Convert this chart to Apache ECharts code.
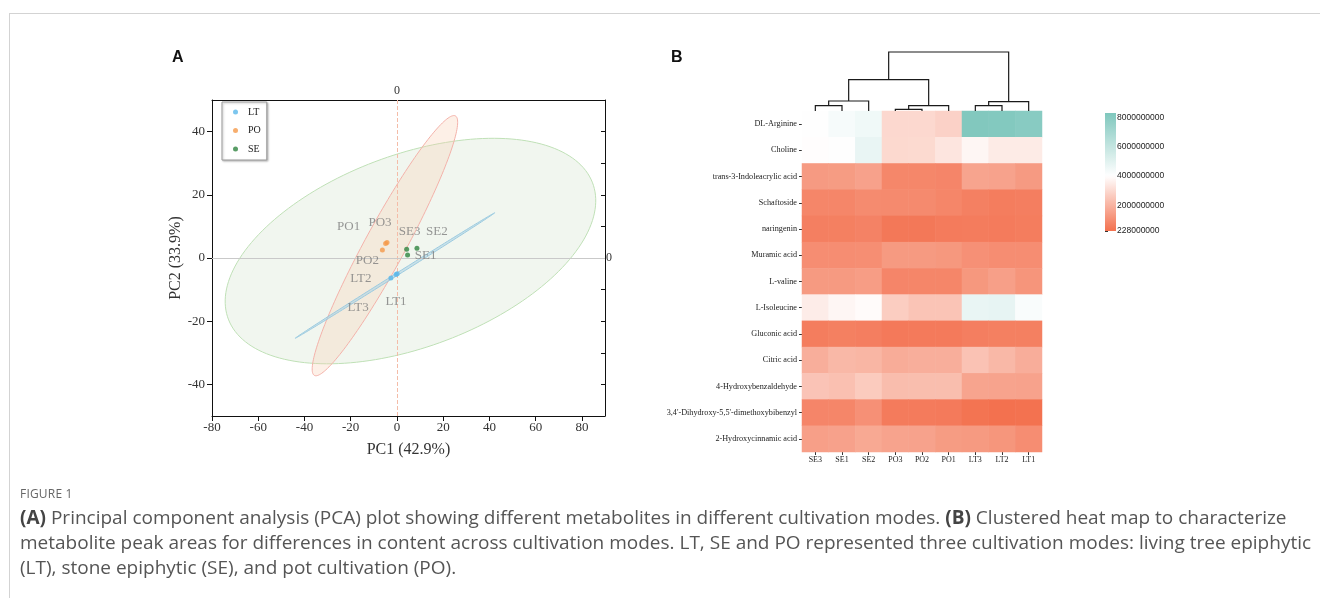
<!DOCTYPE html>
<html>
<head>
<meta charset="utf-8">
<script src="https://cdn.jsdelivr.net/npm/echarts@6.0.0/dist/echarts.min.js"></script>
<style>
  html, body { margin: 0; padding: 0; background: #fff; }
  #page { position: relative; width: 1320px; height: 598px; overflow: hidden; }
  #chart { position: absolute; left: 0; top: 0; width: 1320px; height: 598px; }
  .rule { position: absolute; background: #d3d3d3; }
  #figLabel { position: absolute; left: 20px; top: 485px; font-family: "Open Sans", sans-serif; font-size: 12px; color: #666; letter-spacing: 0.2px; }
  #caption { position: absolute; left: 20px; top: 505px; font-family: "Open Sans", sans-serif; font-size: 19px; line-height: 25px; color: #555; white-space: nowrap; }
  #caption b { color: #444; }
</style>
</head>
<body>
<div id="page">
  <div class="rule" style="left:9px;top:13px;width:1311px;height:1px;"></div>
  <div class="rule" style="left:9px;top:13px;width:1px;height:585px;"></div>
  <div id="chart"></div>
  <div id="figLabel">FIGURE 1</div>
  <div id="caption"><b>(A)</b> Principal component analysis (PCA) plot showing different metabolites in different cultivation modes. <b>(B)</b> Clustered heat map to characterize<br>metabolite peak areas for differences in content across cultivation modes. LT, SE and PO represented three cultivation modes: living tree epiphytic<br>(LT), stone epiphytic (SE), and pot cultivation (PO).</div>
</div>
<script>
// ---------- PCA scores ----------
const pc1Title = 'PC1 (42.9%)';
const pc2Title = 'PC2 (33.9%)';
const xTickValues = [-80, -60, -40, -20, 0, 20, 40, 60, 80];
const yTickValues = [-40, -20, 0, 20, 40];
const yMinorTickValues = [-40, -30, -20, -10, 0, 10, 20, 30, 40];

const groupNames = ['LT', 'PO', 'SE'];

const ltNames = ['LT1', 'LT2', 'LT3'];
const ltPC1 = [-0.4, -2.6, 0.1];
const ltPC2 = [-5.2, -6.3, -5.0];

const poNames = ['PO1', 'PO2', 'PO3'];
const poPC1 = [-4.9, -6.3, -4.3];
const poPC2 = [4.6, 2.5, 4.9];

const seNames = ['SE1', 'SE2', 'SE3'];
const sePC1 = [4.6, 8.65, 4.2];
const sePC2 = [0.96, 3.1, 2.76];

// confidence ellipses: centre, semi-axes and rotation (degrees, in PC units)
const ellipseGroups = ['SE', 'PO', 'LT'];
const ellipseCX = [5.85, -5.2, -0.85];
const ellipseCY = [2.2, 3.9, -5.55];
const ellipseA = [82.0, 51.2, 47.5];
const ellipseB = [31.2, 8.0, 0.4];
const ellipseAngle = [13.2, 53.0, 24.7];

// ---------- heat map ----------
const sampleCols = ['SE3', 'SE1', 'SE2', 'PO3', 'PO2', 'PO1', 'LT3', 'LT2', 'LT1'];
const metaboliteRows = [
  'DL-Arginine', 'Choline', 'trans-3-Indoleacrylic acid', 'Schaftoside', 'naringenin',
  'Muramic acid', 'L-valine', 'L-Isoleucine', 'Gluconic acid', 'Citric acid',
  '4-Hydroxybenzaldehyde', "3,4'-Dihydroxy-5,5'-dimethoxybibenzyl", '2-Hydroxycinnamic acid'
];
// peak areas, one row per metabolite, columns in sampleCols order
const peakAreas = [
  [4.05e9, 4.3e9, 4.5e9, 2.96e9, 2.96e9, 2.8e9, 8.22e9, 8.2e9, 8.0e9],
  [3.95e9, 4.05e9, 4.75e9, 2.98e9, 3.0e9, 3.31e9, 3.76e9, 3.47e9, 3.47e9],
  [1.32e9, 1.35e9, 1.5e9, 0.81e9, 0.81e9, 0.78e9, 1.58e9, 1.53e9, 1.32e9],
  [0.79e9, 0.8e9, 0.92e9, 0.9e9, 0.9e9, 0.8e9, 0.63e9, 0.55e9, 0.58e9],
  [0.6e9, 0.62e9, 0.7e9, 0.42e9, 0.42e9, 0.5e9, 0.53e9, 0.5e9, 0.55e9],
  [0.97e9, 0.97e9, 1.0e9, 1.3e9, 1.3e9, 1.25e9, 1.05e9, 0.98e9, 0.98e9],
  [1.3e9, 1.3e9, 1.38e9, 0.78e9, 0.8e9, 0.8e9, 1.25e9, 1.45e9, 1.18e9],
  [3.5e9, 3.75e9, 3.9e9, 2.67e9, 2.43e9, 2.43e9, 4.75e9, 4.8e9, 4.2e9],
  [0.55e9, 0.62e9, 0.58e9, 0.45e9, 0.47e9, 0.47e9, 0.58e9, 0.62e9, 0.62e9],
  [1.85e9, 2.12e9, 2.05e9, 1.78e9, 1.85e9, 1.85e9, 2.38e9, 2.12e9, 1.83e9],
  [2.42e9, 2.32e9, 2.62e9, 2.25e9, 2.27e9, 2.27e9, 1.58e9, 1.56e9, 1.53e9],
  [0.78e9, 0.8e9, 1.05e9, 0.5e9, 0.5e9, 0.48e9, 0.3e9, 0.23e9, 0.25e9],
  [1.45e9, 1.5e9, 1.7e9, 1.55e9, 1.53e9, 1.35e9, 1.3e9, 1.2e9, 0.98e9]
];
const colorbarTicks = [228000000, 2000000000, 4000000000, 6000000000, 8000000000];
const colorMin = 228000000;
const colorMid = 4000000000;
const colorMax = 8320000000;

// column dendrogram: [child, child, merge height]; leaves are 0..8, merges are numbered from 9
const dendroMerges = [
  [0, 1, 5.4], [9, 2, 10.0], [3, 4, 1.7], [11, 5, 5.4],
  [6, 7, 5.4], [13, 8, 9.4], [10, 12, 31.4], [15, 14, 59]
];
const dendroTop = 59;

// ---------- styling ----------
const SERIF = '"Liberation Serif", "Times New Roman", serif';
const SANS = '"Liberation Sans", Arial, sans-serif';
const groupColors = { LT: '#5bb8ea', PO: '#f59a4a', SE: '#2f8540' };
const ellipseStyle = {
  SE: { fill: 'rgba(196,218,190,0.24)', stroke: '#bfe0b6' },
  PO: { fill: 'rgba(248,206,176,0.30)', stroke: '#f3b1a9' },
  LT: { fill: 'rgba(170,208,226,0.55)', stroke: '#9ccbe0' }
};
const labelOffsets = {
  LT1: [0, 27], LT2: [-30, 1], LT3: [-39, 34],
  PO1: [-37, -17], PO2: [-15, 10], PO3: [-7, -20],
  SE1: [18, 1], SE2: [20, -17], SE3: [3, -18]
};

const lowRGB = [243, 113, 79];
const midRGB = [255, 255, 255];
const highRGB = [127, 199, 189];
function mix(a, b, t) {
  return 'rgb(' + a.map((c, i) => Math.round(c + (b[i] - c) * t)).join(',') + ')';
}
function colorFor(v) {
  if (v <= colorMid) return mix(lowRGB, midRGB, Math.max(0, (v - colorMin) / (colorMid - colorMin)));
  return mix(midRGB, highRGB, Math.min(1, (v - colorMid) / (colorMax - colorMid)));
}
const rampColors = [];
for (let k = 0; k <= 60; k++) rampColors.push(colorFor(colorMin + (colorMax - colorMin) * k / 60));

function scatterData(names, xs, ys) {
  return names.map((n, i) => ({ name: n, value: [xs[i], ys[i]], label: { offset: labelOffsets[n] } }));
}

// dendrogram node positions (x in column units, y in merge height)
const nodeX = sampleCols.map((_, i) => i + 0.5);
const nodeH = sampleCols.map(() => 0);
dendroMerges.forEach(m => {
  nodeX.push((nodeX[m[0]] + nodeX[m[1]]) / 2);
  nodeH.push(m[2]);
});

const heatData = [];
peakAreas.forEach((row, r) => row.forEach((v, c) => heatData.push([c, r, v])));

const chart = echarts.init(document.getElementById('chart'), null, { renderer: 'canvas' });

const scatterLabel = {
  show: true, position: 'inside', formatter: '{b}',
  fontFamily: SERIF, fontSize: 13, color: '#7d7d7d'
};

function scatterSeries(name, data) {
  return {
    name: name, type: 'scatter', xAxisIndex: 0, yAxisIndex: 0,
    symbol: 'circle', symbolSize: 5, z: 5,
    itemStyle: { color: groupColors[name] },
    label: scatterLabel, emphasis: { disabled: true },
    data: data
  };
}

const option = {
  animation: false,
  textStyle: { fontFamily: SERIF },
  grid: [
    { left: 212, top: 100, width: 393, height: 316 },
    { left: 802, top: 111, width: 240, height: 341 },
    { left: 802, top: 52, width: 240, height: 59 },
    { left: 1105, top: 113, width: 11, height: 118 }
  ],
  legend: {
    data: groupNames, orient: 'vertical', left: 222, top: 102,
    icon: 'circle', itemWidth: 5, itemHeight: 5, itemGap: 6.5,
    padding: [4, 6, 5, 11],
    borderColor: '#9a9a9a', borderWidth: 1, backgroundColor: '#fff',
    shadowColor: 'rgba(0,0,0,0.25)', shadowBlur: 2, shadowOffsetX: 1, shadowOffsetY: 1,
    textStyle: { fontFamily: SERIF, fontSize: 10, color: '#222', lineHeight: 12, padding: [0, 0, 0, 5] },
    selectedMode: false
  },
  xAxis: [
    {
      gridIndex: 0, type: 'value', min: -80, max: 90, position: 'bottom',
      name: pc1Title, nameLocation: 'middle', nameGap: 26,
      nameTextStyle: { fontFamily: SERIF, fontSize: 16, color: '#333' },
      axisLine: { show: true, onZero: false, lineStyle: { color: '#111', width: 1 } },
      axisTick: { show: true, length: 5, customValues: xTickValues, lineStyle: { color: '#111' } },
      axisLabel: { customValues: xTickValues, fontFamily: SERIF, fontSize: 13, color: '#333', margin: 5 },
      splitLine: { show: false }
    },
    {
      gridIndex: 0, type: 'value', min: -80, max: 90, position: 'top',
      axisLine: { show: true, onZero: false, lineStyle: { color: '#111', width: 1 } },
      axisTick: { show: false },
      axisLabel: { customValues: [0], fontFamily: SERIF, fontSize: 12, color: '#333', margin: 3 },
      splitLine: { show: false }
    },
    {
      gridIndex: 1, type: 'category', data: sampleCols,
      axisLine: { show: false },
      axisTick: { show: true, alignWithLabel: true, length: 3, lineStyle: { color: '#333' } },
      axisLabel: { fontFamily: SERIF, fontSize: 8, color: '#222', margin: 4 },
      splitLine: { show: false }
    },
    { gridIndex: 2, type: 'value', min: 0, max: sampleCols.length, show: false },
    { gridIndex: 3, type: 'value', min: 0, max: 1, show: false }
  ],
  yAxis: [
    {
      gridIndex: 0, type: 'value', min: -50, max: 50, position: 'left',
      name: pc2Title, nameLocation: 'middle', nameGap: 27, nameRotate: 90,
      nameTextStyle: { fontFamily: SERIF, fontSize: 16, color: '#333' },
      axisLine: { show: true, onZero: false, lineStyle: { color: '#111', width: 1 } },
      axisTick: { show: true, length: 5, customValues: yTickValues, lineStyle: { color: '#111' } },
      axisLabel: { customValues: yTickValues, fontFamily: SERIF, fontSize: 13, color: '#333', margin: 7 },
      splitLine: { show: false }
    },
    {
      gridIndex: 0, type: 'value', min: -50, max: 50, position: 'right',
      axisLine: { show: true, onZero: false, lineStyle: { color: '#111', width: 1 } },
      axisTick: { show: true, inside: true, length: 4, customValues: yMinorTickValues, lineStyle: { color: '#111' } },
      axisLabel: { customValues: [0], fontFamily: SERIF, fontSize: 12, color: '#333', margin: 1 },
      splitLine: { show: false }
    },
    {
      gridIndex: 1, type: 'category', data: metaboliteRows, inverse: true,
      axisLine: { show: false },
      axisTick: { show: true, alignWithLabel: true, length: 3, lineStyle: { color: '#333' } },
      axisLabel: { fontFamily: SERIF, fontSize: 8.2, color: '#222', margin: 5 },
      splitLine: { show: false }
    },
    { gridIndex: 2, type: 'value', min: 0, max: dendroTop, show: false },
    {
      gridIndex: 3, type: 'value', min: colorMin, max: colorMax, position: 'right',
      axisLine: { show: false },
      axisTick: { show: true, length: 3, customValues: colorbarTicks, lineStyle: { color: '#333' } },
      axisLabel: {
        customValues: colorbarTicks, formatter: v => String(Math.round(v)),
        fontFamily: SANS, fontSize: 8.5, color: '#222', margin: 1
      },
      splitLine: { show: false }
    }
  ],
  visualMap: {
    show: false, seriesIndex: 4, min: colorMin, max: colorMax,
    inRange: { color: rampColors }
  },
  graphic: [
    { type: 'text', left: 172, top: 50, style: { text: 'A', font: 'bold 16px "Liberation Sans", Arial, sans-serif', fill: '#111' } },
    { type: 'text', left: 671, top: 50, style: { text: 'B', font: 'bold 16px "Liberation Sans", Arial, sans-serif', fill: '#111' } }
  ],
  series: [
    {
      type: 'custom', name: 'ellipses', xAxisIndex: 0, yAxisIndex: 0, z: 1, silent: true, clip: true,
      data: ellipseGroups.map((g, i) => [ellipseCX[i], ellipseCY[i]]),
      renderItem: function (params, api) {
        const i = params.dataIndex;
        const th = ellipseAngle[i] * Math.PI / 180;
        const pts = [];
        for (let k = 0; k <= 180; k++) {
          const t = k / 180 * 2 * Math.PI;
          const x = ellipseCX[i] + ellipseA[i] * Math.cos(th) * Math.cos(t) - ellipseB[i] * Math.sin(th) * Math.sin(t);
          const y = ellipseCY[i] + ellipseA[i] * Math.sin(th) * Math.cos(t) + ellipseB[i] * Math.cos(th) * Math.sin(t);
          pts.push(api.coord([x, y]));
        }
        const st = ellipseStyle[ellipseGroups[i]];
        return { type: 'polygon', shape: { points: pts }, style: { fill: st.fill, stroke: st.stroke, lineWidth: 1 } };
      },
      markLine: {
        silent: true, symbol: 'none', label: { show: false },
        data: [
          { xAxis: 0, lineStyle: { color: '#f4bca8', type: 'dashed', width: 1 } },
          { yAxis: 0, lineStyle: { color: '#c9c9c9', type: 'solid', width: 1 } }
        ]
      }
    },
    scatterSeries('LT', scatterData(ltNames, ltPC1, ltPC2)),
    scatterSeries('PO', scatterData(poNames, poPC1, poPC2)),
    scatterSeries('SE', scatterData(seNames, sePC1, sePC2)),
    {
      type: 'heatmap', name: 'peak area', xAxisIndex: 2, yAxisIndex: 2,
      data: heatData, emphasis: { disabled: true }, silent: true
    },
    {
      type: 'custom', name: 'dendrogram', xAxisIndex: 3, yAxisIndex: 3, silent: true, clip: false,
      data: dendroMerges.map((m, i) => [nodeX[sampleCols.length + i], m[2]]),
      renderItem: function (params, api) {
        const m = dendroMerges[params.dataIndex];
        const a = m[0], b = m[1], h = m[2];
        const pts = [
          api.coord([nodeX[a], nodeH[a]]),
          api.coord([nodeX[a], h]),
          api.coord([nodeX[b], h]),
          api.coord([nodeX[b], nodeH[b]])
        ];
        return { type: 'polyline', shape: { points: pts }, style: { stroke: '#1a1a1a', lineWidth: 1.2, fill: null } };
      }
    },
    {
      type: 'custom', name: 'colorbar', xAxisIndex: 4, yAxisIndex: 4, silent: true, clip: false,
      data: [[0, colorMin]],
      renderItem: function (params, api) {
        const top = api.coord([0, colorMax]);
        const bottom = api.coord([1, colorMin]);
        const stops = [];
        for (let k = 0; k <= 40; k++) {
          stops.push({ offset: k / 40, color: colorFor(colorMax - (colorMax - colorMin) * k / 40) });
        }
        return {
          type: 'rect',
          shape: { x: top[0], y: top[1], width: bottom[0] - top[0], height: bottom[1] - top[1] },
          style: { fill: new echarts.graphic.LinearGradient(0, 0, 0, 1, stops) }
        };
      }
    }
  ]
};

chart.setOption(option);
</script>
</body>
</html>
